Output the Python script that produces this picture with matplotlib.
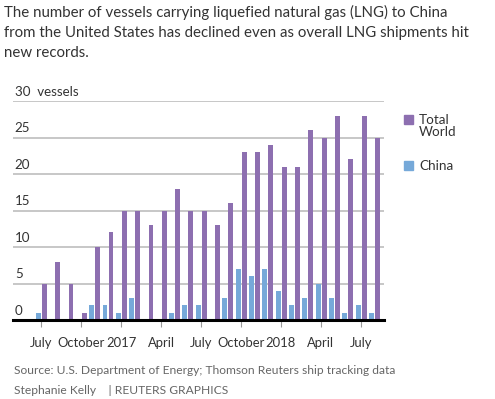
import matplotlib
matplotlib.use("Agg")
import matplotlib.pyplot as plt
from matplotlib.patches import Rectangle
import numpy as np

plt.rcParams["font.family"] = ["Lato", "DejaVu Sans"]

# monthly data, July 2016 .. August 2018
months = ["Jul16", "Aug16", "Sep16", "Oct16", "Nov16", "Dec16",
          "Jan17", "Feb17", "Mar17", "Apr17", "May17", "Jun17",
          "Jul17", "Aug17", "Sep17", "Oct17", "Nov17", "Dec17",
          "Jan18", "Feb18", "Mar18", "Apr18", "May18", "Jun18",
          "Jul18", "Aug18"]
total_world = [5, 8, 5, 1, 10, 12, 15, 15, 13, 15, 18, 15,
               15, 13, 16, 23, 23, 24, 21, 21, 26, 25, 28, 22, 28, 25]
china = [1, 0, 0, 0, 2, 2, 1, 3, 0, 0, 1, 2,
         2, 0, 3, 7, 6, 7, 4, 2, 3, 5, 3, 1, 2, 1]
tick_labels = ["July", "October", "2017", "April", "July",
               "October", "2018", "April", "July"]
y_ticks = [0, 5, 10, 15, 20, 25, 30]

W, H = 495, 399
purple = "#8d6fb0"
blue = "#76a9d9"
text_dark = "#333333"
text_gray = "#666666"


def fx(px):
    return px / W


def fy(py):
    return 1 - py / H


fig = plt.figure(figsize=(W / 100, H / 100), dpi=100)

# axes placed in pixel coordinates
left, right, top, bottom = 13, 384, 101, 320
ax = fig.add_axes([fx(left), fy(bottom), fx(right) - fx(left), (bottom - top) / H])

x = np.arange(len(months))
step = 13.33  # px per month
ax.set_xlim((left - 41) / step, (right - 41) / step)
ax.set_ylim(0, 30)

ax.bar(x - 0.2, china, width=0.37, color=blue, zorder=3)
ax.bar(x + 0.25, total_world, width=0.37, color=purple, zorder=3)

for v in y_ticks[1:]:
    ax.axhline(v, color="#bdbdbd", linewidth=1.2, zorder=1)
ax.axhline(0, color="black", linewidth=2.2, zorder=4, clip_on=False)

for v in y_ticks:
    label = "30  vessels" if v == 30 else str(v)
    ax.text(0.005, v + 0.45, label, transform=ax.get_yaxis_transform(),
            ha="left", va="bottom", fontsize=9.6, color=text_dark)

for s in ax.spines.values():
    s.set_visible(False)
ax.set_yticks([])
tick_pos = x[::3]
ax.set_xticks(tick_pos)
ax.set_xticklabels(tick_labels, fontsize=9.4, color=text_dark)
ax.tick_params(axis="x", length=5, width=0.8, color="#999999", pad=7)

# title
title_lines = ["The number of vessels carrying liquefied natural gas (LNG) to China",
               "from the United States has declined even as overall LNG shipments hit",
               "new records."]
for i, line in enumerate(title_lines):
    fig.text(fx(4), fy(12 + i * 20.5), line, fontsize=10.8, color=text_dark,
             ha="left", va="center")

# legend
fig.add_artist(Rectangle((fx(404), fy(124)), fx(9), 9 / H, color=purple,
                         transform=fig.transFigure))
fig.text(fx(419), fy(120), "Total", fontsize=9.7, color=text_dark, va="center")
fig.text(fx(419), fy(132.5), "World", fontsize=9.7, color=text_dark, va="center")
fig.add_artist(Rectangle((fx(404), fy(170)), fx(9), 9 / H, color=blue,
                         transform=fig.transFigure))
fig.text(fx(419), fy(166), "China", fontsize=9.7, color=text_dark, va="center")

# source
fig.text(fx(14), fy(371), "Source: U.S. Department of Energy; Thomson Reuters ship tracking data",
         fontsize=8.65, color=text_gray, va="center")
fig.text(fx(14), fy(390), "Stephanie Kelly    | REUTERS GRAPHICS",
         fontsize=8.65, color=text_gray, va="center")

fig.savefig("out.png", dpi=100)
